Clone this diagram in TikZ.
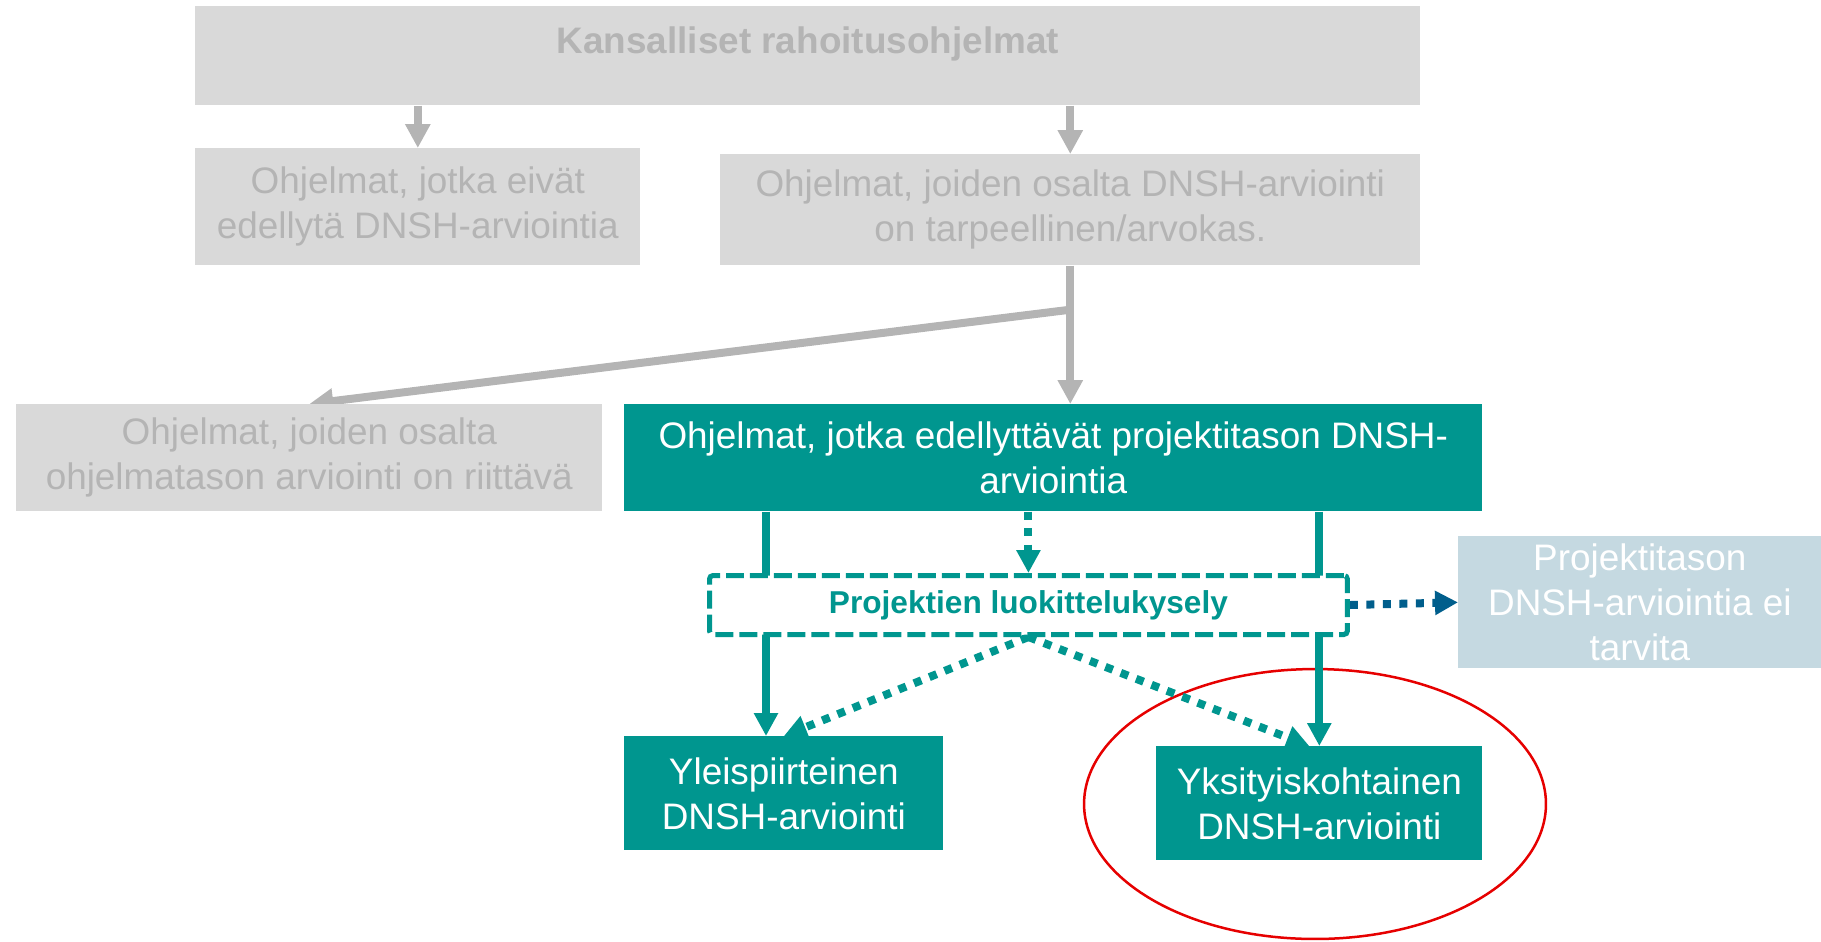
\documentclass[tikz,border=0pt]{standalone}
\usepackage{fontspec}
\setmainfont{Liberation Sans}
\usetikzlibrary{arrows.meta,backgrounds,calc,positioning}
\definecolor{dnshteal}{RGB}{0,150,143}
\definecolor{boxgray}{RGB}{217,217,217}
\definecolor{txtgray}{RGB}{180,180,180}
\definecolor{paleblue}{RGB}{197,217,225}
\definecolor{darkblue}{RGB}{0,94,140}
\definecolor{ringred}{RGB}{230,0,0}
\tikzset{%
  box/.style={rectangle,anchor=north west,inner sep=0pt,align=center,
    font=\fontsize{21}{25.6}\selectfont},
  graybox/.style={box,fill=boxgray,text=txtgray},
  tealbox/.style={box,fill=dnshteal,text=white},
  bluebox/.style={box,fill=paleblue,text=white},
  surveybox/.style={box,draw=dnshteal,line width=0.1cm,
    dash pattern=on 0.36cm off 0.12cm,rounded corners=2pt,fill=white,
    text=dnshteal,font=\fontsize{18}{21.6}\selectfont\bfseries},
  grayline/.style={draw=txtgray,line width=0.16cm,
    -{Triangle[length=0.48cm,width=0.48cm]}},
  tealline/.style={draw=dnshteal,line width=0.16cm,
    -{Triangle[length=0.46cm,width=0.46cm]}},
  tealdots/.style={tealline,dash pattern=on 0.16cm off 0.17cm},
  bluedots/.style={draw=darkblue,line width=0.16cm,
    dash pattern=on 0.16cm off 0.17cm,-{Triangle[length=0.46cm,width=0.46cm]}}
}
\begin{document}
\begin{tikzpicture}[x=0.02cm,y=-0.02cm]
\useasboundingbox (0,0) rectangle (1821,941);
% programme level
\node[graybox,minimum width=24.5cm,minimum height=1.98cm,text height=0.94cm,
  text depth=1.04cm,font=\fontsize{21}{25.6}\selectfont\bfseries] (natl) at (195,6)
  {Kansalliset rahoitusohjelmat};
\node[graybox,minimum width=8.9cm,minimum height=2.34cm] (noneed) at (195,148)
  {Ohjelmat, jotka eivät\\edellytä DNSH-arviointia};
\node[graybox,minimum width=14cm,minimum height=2.22cm] (needed) at (720,154)
  {Ohjelmat, joiden osalta DNSH-arviointi\\on tarpeellinen/arvokas.};
\node[graybox,minimum width=11.72cm,minimum height=2.14cm] (proglevel) at (16,404)
  {Ohjelmat, joiden osalta\\ohjelmatason arviointi on riittävä};
\node[tealbox,minimum width=17.16cm,minimum height=2.14cm] (projlevel) at (624,404)
  {Ohjelmat, jotka edellyttävät projektitason DNSH-\\arviointia};
% project level
\node[surveybox,minimum width=12.76cm,minimum height=1.18cm] (survey) at (707,573)
  {Projektien luokittelukysely};
\node[bluebox,minimum width=7.26cm,minimum height=2.64cm] (notreq) at (1458,536)
  {Projektitason\\DNSH-arviointia ei\\tarvita};
\node[tealbox,minimum width=6.38cm,minimum height=2.28cm] (general) at (624,736)
  {Yleispiirteinen\\DNSH-arviointi};
\node[tealbox,minimum width=6.52cm,minimum height=2.28cm] (detailed) at (1156,746)
  {Yksityiskohtainen\\DNSH-arviointi};

\coordinate (fork) at ($(needed.south)+(0,44)$);
\coordinate (leftx) at (766,0);
% connectors behind the boxes
\begin{pgfonlayer}{background}
\draw[ringred,line width=0.05cm] (1315,804) ellipse [x radius=4.62cm,y radius=2.7cm];
\draw[grayline] (natl.south -| noneed.north) -- (noneed.north);
\draw[grayline] (natl.south -| needed.north) -- (needed.north);
\draw[grayline] (needed.south) -- (needed.south |- projlevel.north);
\draw[grayline] (fork) -- (proglevel.north);
\draw[tealline] (projlevel.south -| leftx) -- (general.north -| leftx);
\draw[tealline] (projlevel.south -| detailed.north) -- (detailed.north);
\draw[tealdots] (projlevel.south -| survey.north) -- (survey.north);
\draw[tealdots] (survey.south) -- (general.north);
\draw[tealdots] (survey.south) -- ([xshift=-0.2cm]detailed.north);
\draw[bluedots] (survey.east) -- (notreq.west);
\end{pgfonlayer}
\end{tikzpicture}
\end{document}
